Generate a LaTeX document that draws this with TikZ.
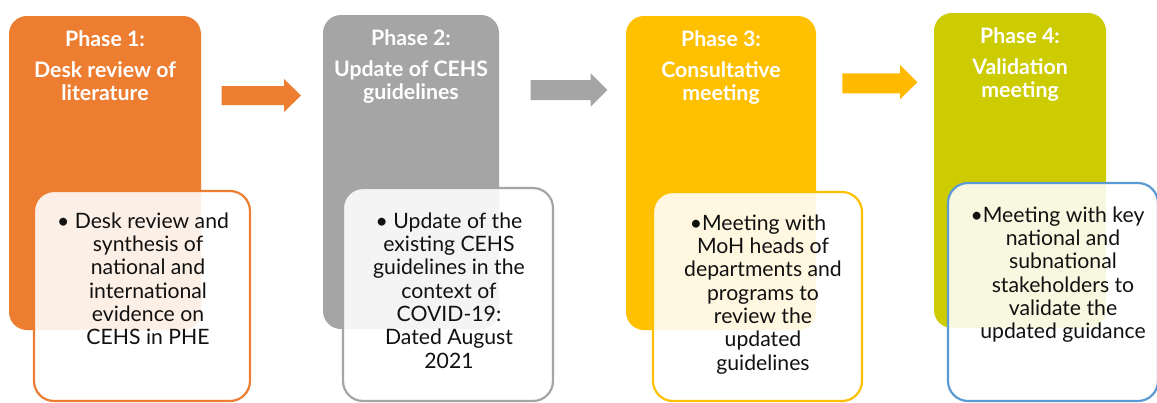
\documentclass[tikz,border=0pt]{standalone}
\usepackage{fontspec}
\setmainfont{Lato}
\definecolor{phaseorange}{HTML}{ED7D31}
\definecolor{phasegray}{HTML}{A5A5A5}
\definecolor{phasegold}{HTML}{FFC000}
\definecolor{arrowgold}{HTML}{FFBA00}
\definecolor{phaselime}{HTML}{CCCC00}
\definecolor{edgeblue}{HTML}{5B9BD5}
\definecolor{bodyink}{HTML}{111111}
\tikzset{
  phasebox/.style={draw=none, rounded corners=18pt, inner sep=0pt},
  phasetitle/.style={anchor=north, inner sep=0pt, align=center, text=white,
    font=\bfseries\fontsize{21.3}{22.8}\selectfont},
  detailbox/.style={fill=white, fill opacity=0.88, line width=2.2pt,
    rounded corners=20pt, inner sep=0pt},
  detailtext/.style={anchor=north, inner sep=0pt, align=center, text=bodyink,
    font=\fontsize{21.2}{23.3}\selectfont}
}
\begin{document}
\begin{tikzpicture}[x=1pt, y=-1pt]
  \path[fill=white, use as bounding box] (0,0) rectangle (1157,402);

  % phase columns
  \node[phasebox, fill=phaseorange, minimum width=192pt, minimum height=314pt] (p1) at (105,173) {};
  \node[phasebox, fill=phasegray,   minimum width=176pt, minimum height=314pt] (p2) at (411,172) {};
  \node[phasebox, fill=phasegold,   minimum width=190pt, minimum height=314pt] (p3) at (721,173) {};
  \node[phasebox, fill=phaselime,   minimum width=172pt, minimum height=315pt] (p4) at (1020,170.5) {};

  % phase titles
  \node[phasetitle] (t1) at (105,30) {Phase 1:\\[8.5pt]Desk review of\\literature};
  \node[phasetitle] (t2) at (411,29) {Phase 2:\\[8.5pt]Update of CEHS\\guidelines};
  \node[phasetitle] (t3) at (721,30) {Phase 3:\\[8.5pt]Consultative\\meeting};
  \node[phasetitle] (t4) at (1020,27) {Phase 4:\\[8.5pt]Validation\\meeting};

  % detail cards
  \node[detailbox, draw=phaseorange, minimum width=216pt, minimum height=210pt] (d1) at (142,296) {};
  \node[detailbox, draw=phasegray,   minimum width=210pt, minimum height=213pt] (d2) at (448,294.5) {};
  \node[detailbox, draw=phasegold,   minimum width=209pt, minimum height=209pt] (d3) at (757.5,296.5) {};
  \node[detailbox, draw=edgeblue,    minimum width=210pt, minimum height=218pt] (d4) at (1053,292) {};

  % detail texts
  \node[detailtext] (x1) at (148,212.5)
    {• Desk review and\kern10pt\\synthesis of\\national and\\international\\evidence on\\CEHS in PHE};
  \node[detailtext] (x2) at (449,212.5)
    {• Update of the\\existing CEHS\\guidelines in the\\context of\\COVID-19:\\Dated August\\2021};
  \node[detailtext] (x3) at (763,214.5)
    {•Meeting with\kern10pt\\MoH heads of\\departments and\\programs to\\review the\\updated\\guidelines};
  \node[detailtext] (x4) at (1063,206.5)
    {•Meeting with key\kern11pt\\national and\\subnational\\stakeholders to\\validate the\\updated guidance};

  % block arrows between phases
  \fill[phaseorange] (221.7,86) -- (284,86) -- (284,79) -- (301,95.5) -- (284,112) -- (284,105) -- (221.7,105) -- cycle;
  \fill[phasegray]   (530.7,80) -- (590.7,80) -- (590.7,73.3) -- (607.3,90) -- (590.7,106.7) -- (590.7,100) -- (530.7,100) -- cycle;
  \fill[arrowgold]   (842.3,73.3) -- (900,73.3) -- (900,65) -- (917.3,82.3) -- (900,99.3) -- (900,93.3) -- (842.3,93.3) -- cycle;
\end{tikzpicture}
\end{document}
